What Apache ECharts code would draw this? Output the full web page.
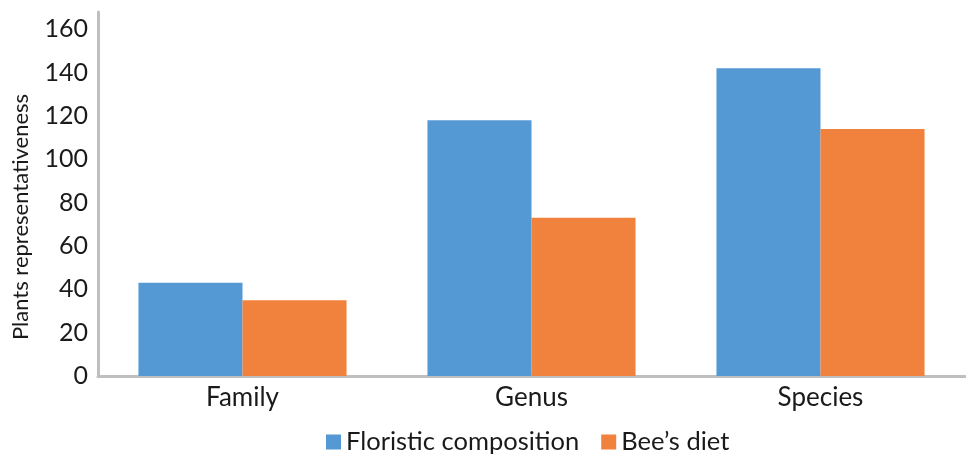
<!DOCTYPE html>
<html>
<head>
<meta charset="utf-8">
<script src="https://cdn.jsdelivr.net/npm/echarts@6/dist/echarts.min.js"></script>
<style>html,body{margin:0;padding:0;background:#fff;}#c{width:966px;height:455px;}</style>
</head>
<body>
<div id="c"></div>
<script>
const categories = ['Family', 'Genus', 'Species'];
const floristic = [43, 118, 142];
const beeDiet = [35, 73, 114];
const seriesNames = ['Floristic composition', 'Bee\u2019s diet'];

const FONT = 'Lato';
const chart = echarts.init(document.getElementById('c'));
chart.setOption({
  animation: false,
  textStyle: { fontFamily: FONT },
  grid: { left: 98, right: 1, top: 12, bottom: 79, outerBoundsMode: 'none', containLabel: false },
  legend: {
    top: 429,
    left: 326,
    padding: 0,
    itemWidth: 15, itemHeight: 15, itemGap: 22,
    icon: 'rect',
    textStyle: { fontFamily: FONT, fontSize: 25.5, color: '#1a1a1a' },
    data: seriesNames
  },
  xAxis: {
    type: 'category',
    data: categories,
    axisLine: { lineStyle: { color: '#bfbfbf', width: 3 } },
    axisTick: { show: false },
    axisLabel: { fontFamily: FONT, fontSize: 26, color: '#1a1a1a', margin: 9 }
  },
  yAxis: {
    type: 'value',
    min: 0, max: 168, interval: 20,
    name: 'Plants representativeness',
    nameLocation: 'middle',
    nameGap: 66,
    nameTextStyle: { fontFamily: FONT, fontSize: 22, color: '#1a1a1a', padding: [0, 46, 0, 0] },
    axisLine: { show: true, lineStyle: { color: '#bfbfbf', width: 3 } },
    axisTick: { show: false },
    splitLine: { show: false },
    axisLabel: {
      fontFamily: FONT, fontSize: 25, color: '#1a1a1a', margin: 10,
      showMaxLabel: false,
      formatter: v => (v % 20 === 0 ? String(v) : '')
    }
  },
  series: [
    { name: seriesNames[0], type: 'bar', data: floristic, barGap: '0%', barCategoryGap: '28%',
      itemStyle: { color: '#5499d3' } },
    { name: seriesNames[1], type: 'bar', data: beeDiet, barGap: '0%', barCategoryGap: '28%',
      itemStyle: { color: '#f0823d' } }
  ]
});
</script>
</body>
</html>
